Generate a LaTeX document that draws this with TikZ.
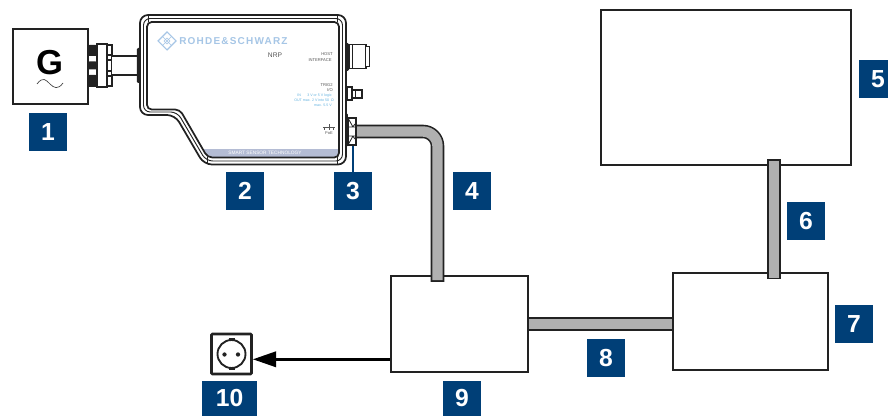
\documentclass[tikz,border=0pt]{standalone}
\usepackage{fontspec}
\setmainfont{Liberation Sans}
\usetikzlibrary{arrows.meta}
\pgfdeclarelayer{front}
\pgfsetlayers{main,front}
\definecolor{badgeblue}{HTML}{003F77}
\definecolor{linedark}{HTML}{222222}
\definecolor{cablegray}{HTML}{B0B0B0}
\definecolor{logoblue}{HTML}{A6C6E6}
\definecolor{bandblue}{HTML}{B4BCD4}
\definecolor{infoblue}{HTML}{62B2E0}
\definecolor{printgray}{HTML}{555555}
\tikzset{
  px size/.style 2 args={minimum width=#1*0.75pt,minimum height=#2*0.75pt,inner sep=0pt},
  devbox/.style={draw=linedark,fill=white,line width=1.5pt,inner sep=0pt},
  badge/.style={fill=badgeblue,text=white,inner sep=0pt,font=\fontsize{18.5pt}{20pt}\bfseries,minimum width=28.5pt,minimum height=28.5pt},
  cable/.style={draw=linedark,line width=1.2pt,double=cablegray,double distance=7.8pt},
  shell/.style={draw=linedark,line width=1.3pt},
  part/.style={draw=linedark,fill=white,line width=0.9pt,inner sep=0pt},
  solidpart/.style={fill=linedark,inner sep=0pt,rounded corners=1pt},
  print/.style={inner sep=0pt,text=printgray,font=\fontsize{3.1pt}{3.5pt}\selectfont},
  info/.style={inner sep=0pt,text=infoblue,font=\fontsize{2.7pt}{3pt}\selectfont},
}
\begin{document}
\begin{tikzpicture}[x=0.75pt,y=-0.75pt]
\useasboundingbox (0,0) rectangle (888,416);
% generator connector
\node[solidpart,px size={9}{11}] (s1) at (92.5,50.5) {};
\node[solidpart,px size={9}{8}] (s2) at (92.5,65.5) {};
\node[solidpart,px size={9}{12}] (s3) at (92.5,81) {};
\node[part,px size={10}{43}] (flange) at (102,65.5) {};
\node[part,px size={5}{10}] (f1) at (109.5,50) {};
\node[part,px size={5}{11}] (f2) at (109.5,65.5) {};
\node[part,px size={5}{10}] (f3) at (109.5,81) {};
\node[part,px size={26}{19}] (tube) at (124.5,65.5) {};
\node[solidpart,px size={3.5}{35}] (rfflange) at (138.5,65.5) {};
% generator
\node[devbox,px size={75}{75}] (gen) at (50,67) {};
\node[inner sep=0pt,font=\fontsize{26pt}{28pt}\bfseries,text=black] (gtext) at (50,63) {G};
\draw[black!75,line width=0.5pt] (37,84) .. controls (43,76) and (46,80) .. (50,84) .. controls (54,88) and (58,90) .. (63,83);
% sensor housing
\draw[shell,fill=white,rounded corners=6pt] (140,15) -- (346,15) -- (346,164.5) -- (204,164.5) -- (175,115) -- (140,115) -- cycle;
\draw[draw=linedark,line width=0.7pt,rounded corners=5pt] (143.5,18.5) -- (342.5,18.5) -- (342.5,161) -- (206,161) -- (177.3,112) -- (143.5,112) -- cycle;
\begin{scope}
\clip[rounded corners=3.5pt] (147,22) -- (339,22) -- (339,157.5) -- (207.6,157.5) -- (179.8,109.5) -- (147,109.5) -- cycle;
\fill[bandblue] (195,148.7) rectangle (339,158);
\end{scope}
\draw[shell,rounded corners=3.5pt] (147,22) -- (339,22) -- (339,157.5) -- (207.6,157.5) -- (179.8,109.5) -- (147,109.5) -- cycle;
\draw[draw=linedark,line width=0.6pt] (148,15) -- (148,22) (337,15) -- (337,22) (337,157.5) -- (337,164.5) (207,157.5) -- (207,164.5);
\node[inner sep=0pt,text=white,font=\fontsize{3.6pt}{4pt}\selectfont] (band) at (265,153) {SMART SENSOR TECHNOLOGY};
% logo
\draw[logoblue,line width=0.8pt] (158,41) -- (167,32) -- (176,41) -- (167,50) -- cycle;
\draw[logoblue,line width=0.5pt] (162.5,36.5) -- (171.5,45.5) (162.5,45.5) -- (171.5,36.5) (164,41) -- (167,38) -- (170,41) -- (167,44) -- cycle;
\node[anchor=west,inner sep=0pt,text=logoblue,font=\fontsize{7.5pt}{8pt}\bfseries\addfontfeature{LetterSpace=12}] (logo) at (179,41) {ROHDE\&SCHWARZ};
% printed labels
\node[inner sep=0pt,text=printgray,font=\fontsize{5pt}{6pt}\selectfont] (nrp) at (275,55.5) {NRP};
\node[print,anchor=east] (host) at (333,54) {HOST};
\node[print,anchor=east] (iface) at (332,60) {INTERFACE};
\node[print,anchor=east] (trig) at (333,84.7) {TRIG2};
\node[print,anchor=east] (io) at (333,90.3) {I/O};
\node[info,anchor=west] (in1) at (297,95.3) {IN};
\node[info,anchor=east] (in2) at (332,95.3) {3 V or 5 V logic};
\node[info,anchor=west] (out1) at (294,100.7) {OUT max. 2 V into 50};
\node[info,anchor=east] (out2) at (334,100.7) {Ω};
\node[info,anchor=east] (max) at (332,105.7) {max. 5.5 V};
% PoE symbol
\draw[printgray,line width=0.4pt] (323,127.5) -- (335,127.5) (329,124.5) -- (329,127.5) (324.5,127.5) -- (324.5,130) (329,127.5) -- (329,130) (333.5,127.5) -- (333.5,130);
\node[print,font=\fontsize{3pt}{3.5pt}\selectfont] (poetext) at (329,133.5) {PoE};
% host connector
\node[solidpart,px size={3}{28}] (hostflange) at (347.5,57) {};
\node[part,px size={17}{24}] (hostbody) at (357.5,56.5) {};
\node[part,px size={3.5}{20}] (hostend) at (367.5,56.5) {};
\draw[linedark,line width=0.6pt] (352,44.5) -- (352,68.5);
% trigger connector
\node[part,px size={5}{13}] (trignut) at (349.5,93.5) {};
\node[part,px size={10}{8}] (trigpin) at (357,94) {};
\draw[linedark,line width=0.5pt] (355,90) -- (355,98);
% boxes
\node[devbox,px size={250}{155}] (display) at (726,87.5) {};
\node[devbox,px size={155}{96}] (router) at (750,321.5) {};
\node[devbox,px size={137}{96}] (injector) at (459,324) {};
\node[draw=linedark,fill=white,line width=2pt,rounded corners=0.8pt,px size={40}{40}] (socket) at (231.5,354) {};
\node[draw=linedark,line width=1.4pt,circle,minimum size=21pt,inner sep=0pt] (socketring) at (socket.center) {};
\node[fill=linedark,circle,minimum size=3.2pt,inner sep=0pt] (pinl) at (224.5,354.5) {};
\node[fill=linedark,circle,minimum size=3.2pt,inner sep=0pt] (pinr) at (238,354.5) {};
\draw[linedark,line width=1.5pt] (socketring.north) ++(-3,0) -- ++(6,0);
\draw[linedark,line width=1.5pt] (socketring.south) ++(-3,0) -- ++(6,0);
% PoE connector on top of its cable
\begin{pgfonlayer}{front}
\node[solidpart,px size={2.5}{34}] (poeflange) at (346.5,130) {};
\node[part,px size={8}{27}] (poe) at (352,131.5) {};
\draw[linedark,line width=0.6pt] (348,127) -- (356,127) (348,136) -- (356,136) (348,118) -- (353,127) (356,123) -- (352.5,127) (348,145) -- (353,136) (356,140) -- (352.5,136);
\end{pgfonlayer}
% connectors
\coordinate (c4) at (437.5,0);
\coordinate (c6) at (773.7,0);
\coordinate (c10) at (0,359.3);
\draw[cable,line cap=rect,rounded corners=11pt] (poe.east) -- (c4 |- poe.east) -- (c4 |- injector.north);
\draw[cable,line cap=rect] (c6 |- display.south) -- (c6 |- router.north);
\draw[cable] (injector.east) -- (router.west |- injector.east);
\draw[black,line width=2pt,-{Triangle[length=17.5pt,width=11.5pt]}] (injector.west |- c10) -- (socket.east |- c10);
% badges
\node[badge] (b1) at (48,132) {1};
\node[badge] (b2) at (245,191) {2};
\node[badge] (b3) at (353,191) {3};
\node[badge] (b4) at (472,191) {4};
\node[badge,minimum width=21.75pt] (b5) at (873.5,79) {\hspace*{6.75pt}5};
\node[badge] (b6) at (806,221) {6};
\node[badge] (b7) at (854,324) {7};
\node[badge] (b8) at (606,358) {8};
\node[badge,minimum height=26.25pt] (b9) at (462,398.5) {9};
\node[badge,minimum width=41.25pt,minimum height=26.25pt] (b10) at (229.5,398.5) {10};
\draw[badgeblue,line width=2pt] (poe.south) -- (poe.south -| b3.north) -- (b3.north);
\end{tikzpicture}
\end{document}
